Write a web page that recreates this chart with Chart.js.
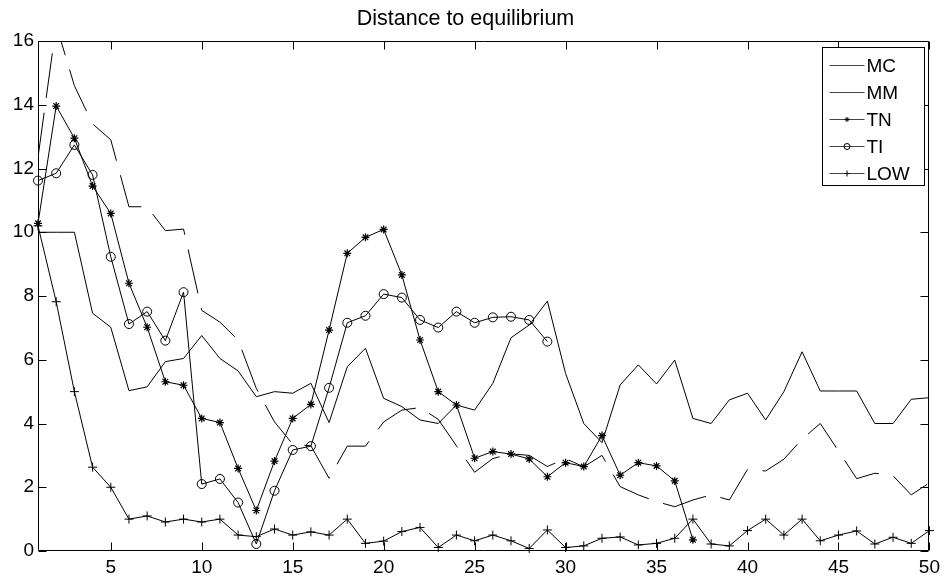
<!DOCTYPE html>
<html>
<head>
<meta charset="utf-8">
<title>Distance to equilibrium</title>
<script src="https://cdn.jsdelivr.net/npm/chart.js@4.4.1/dist/chart.umd.min.js"></script>
<style>
  html, body { margin: 0; padding: 0; background: #fff; }
</style>
</head>
<body>
<canvas id="grafico" width="945" height="579"></canvas>
<script>
// x positions (iterations)
const steps = [1, 2, 3, 4, 5, 6, 7, 8, 9, 10, 11, 12, 13, 14, 15, 16, 17, 18, 19, 20,
  21, 22, 23, 24, 25, 26, 27, 28, 29, 30, 31, 32, 33, 34, 35, 36, 37, 38, 39, 40,
  41, 42, 43, 44, 45, 46, 47, 48, 49, 50];

const mcValues = [10.0, 10.0, 10.0, 7.46, 7.02, 5.03, 5.15, 5.94, 6.04, 6.76,
  6.04, 5.65, 4.84, 5.0, 4.95, 5.26, 4.03, 5.78, 6.36, 4.79,
  4.53, 4.11, 4.0, 4.58, 4.42, 5.26, 6.69, 7.09, 7.84, 5.57,
  4.0, 3.4, 5.21, 5.84, 5.24, 5.99, 4.16, 4.0, 4.74, 4.95,
  4.11, 5.0, 6.25, 5.02, 5.02, 5.02, 4.0, 4.0, 4.76, 4.81];

const mmValues = [12.35, 16.5, 14.6, 13.4, 12.9, 10.8, 10.8, 10.05, 10.1, 7.55,
  7.18, 6.62, 5.1, 4.05, 3.35, 3.3, 2.28, 3.29, 3.29, 4.05,
  4.42, 4.5, 4.13, 3.3, 2.47, 2.9, 3.05, 3.0, 2.65, 2.9,
  2.64, 3.0, 2.02, 1.76, 1.55, 1.39, 1.6, 1.76, 1.6, 2.56,
  2.51, 2.88, 3.51, 4.0, 3.14, 2.27, 2.44, 2.36, 1.76, 2.14];

const tnValues = [10.28, 13.96, 12.95, 11.45, 10.59, 8.4, 7.02, 5.31, 5.2, 4.16,
  4.03, 2.59, 1.27, 2.82, 4.16, 4.6, 6.93, 9.34, 9.84, 10.09,
  8.66, 6.62, 5.0, 4.58, 2.91, 3.12, 3.04, 2.89, 2.33, 2.77,
  2.65, 3.62, 2.38, 2.77, 2.67, 2.2, 0.35];

const tiValues = [11.62, 11.85, 12.74, 11.8, 9.23, 7.12, 7.51, 6.6, 8.12, 2.1,
  2.26, 1.52, 0.22, 1.89, 3.17, 3.29, 5.12, 7.16, 7.38, 8.06,
  7.95, 7.25, 7.01, 7.51, 7.16, 7.33, 7.35, 7.25, 6.57];

const lowValues = [10.2, 7.82, 5.0, 2.63, 2.0, 1.0, 1.1, 0.91, 1.0, 0.91,
  1.0, 0.5, 0.45, 0.69, 0.5, 0.6, 0.5, 1.0, 0.24, 0.31,
  0.61, 0.74, 0.11, 0.5, 0.32, 0.5, 0.32, 0.08, 0.66, 0.11,
  0.16, 0.4, 0.44, 0.19, 0.24, 0.4, 1.0, 0.22, 0.16, 0.64,
  1.0, 0.5, 1.0, 0.32, 0.5, 0.63, 0.22, 0.43, 0.24, 0.64];

const xTickValues = [5, 10, 15, 20, 25, 30, 35, 40, 45, 50];
const yTickValues = [0, 2, 4, 6, 8, 10, 12, 14, 16];

const fonte = '"Liberation Sans", Arial, sans-serif';

// junta x e y em pontos
function pontos(valores) {
  return valores.map((v, i) => ({ x: steps[i], y: v }));
}

// moldura, ticks para dentro e legenda dentro do grafico
const moldura = {
  id: 'moldura',
  afterDraw(chart) {
    const { ctx, chartArea: a, scales } = chart;
    const L = Math.round(a.left) + 0.5, R = Math.round(a.right) - 0.5;
    const T = Math.round(a.top) + 0.5, B = Math.round(a.bottom) - 0.5;
    const tick = 8;
    ctx.save();
    ctx.strokeStyle = '#000';
    ctx.lineWidth = 1;
    ctx.beginPath();
    ctx.rect(L, T, R - L, B - T);
    scales.x.ticks.forEach(t => {
      const px = Math.round(scales.x.getPixelForValue(t.value)) + 0.5;
      ctx.moveTo(px, B); ctx.lineTo(px, B - tick);
      ctx.moveTo(px, T); ctx.lineTo(px, T + tick);
    });
    scales.y.ticks.forEach(t => {
      const py = Math.round(scales.y.getPixelForValue(t.value)) + 0.5;
      ctx.moveTo(L, py); ctx.lineTo(L + tick, py);
      ctx.moveTo(R, py); ctx.lineTo(R - tick, py);
    });
    ctx.stroke();

    // legenda
    const boxW = 102, boxH = 138;
    const bx = Math.round(a.right) - 5 - boxW + 0.5;
    const by = Math.round(a.top) + 6 + 0.5;
    ctx.fillStyle = '#fff';
    ctx.fillRect(bx, by, boxW, boxH);
    ctx.strokeRect(bx, by, boxW, boxH);
    ctx.font = '19px ' + fonte;
    ctx.textBaseline = 'middle';
    ctx.textAlign = 'left';
    chart.data.datasets.forEach((ds, i) => {
      const yy = Math.round(by + 17 + i * 27.2) + 0.5;
      ctx.strokeStyle = '#444';
      ctx.beginPath();
      ctx.moveTo(bx + 7, yy); ctx.lineTo(bx + 42, yy);
      ctx.stroke();
      if (ds.pointRadius > 0) {
        ctx.strokeStyle = '#000';
        ctx.fillStyle = 'rgba(0,0,0,0)';
        Chart.helpers.drawPoint(ctx, {
          pointStyle: ds.pointStyle,
          radius: ds.legendRadius,
          rotation: 0,
          borderWidth: 1
        }, bx + 24.5, yy);
      }
      ctx.fillStyle = '#000';
      ctx.fillText(ds.label, bx + 44, yy + 1);
    });
    ctx.restore();
  }
};

const ctx = document.getElementById('grafico');

new Chart(ctx, {
  type: 'line',
  data: {
    datasets: [
      {
        label: 'MC',
        data: pontos(mcValues),
        borderColor: '#000',
        borderWidth: 1,
        pointRadius: 0,
        tension: 0
      },
      {
        label: 'MM',
        data: pontos(mmValues),
        borderColor: '#000',
        borderWidth: 1,
        borderDash: [45, 15],
        pointRadius: 0,
        tension: 0
      },
      {
        label: 'TN',
        data: pontos(tnValues),
        borderColor: '#000',
        borderWidth: 1,
        pointStyle: 'star',
        pointRadius: 4,
        legendRadius: 2.5,
        pointBorderColor: '#000',
        pointBorderWidth: 1.2,
        tension: 0,
        clip: false
      },
      {
        label: 'TI',
        data: pontos(tiValues),
        borderColor: '#000',
        borderWidth: 1,
        pointStyle: 'circle',
        pointRadius: 4.5,
        legendRadius: 3,
        pointBorderColor: '#000',
        pointBackgroundColor: 'rgba(0,0,0,0)',
        pointBorderWidth: 1,
        tension: 0,
        clip: false
      },
      {
        label: 'LOW',
        data: pontos(lowValues),
        borderColor: '#000',
        borderWidth: 1,
        pointStyle: 'cross',
        pointRadius: 4.5,
        legendRadius: 3,
        pointBorderColor: '#000',
        pointBorderWidth: 1,
        tension: 0,
        clip: false
      }
    ]
  },
  options: {
    responsive: false,
    animation: false,
    layout: { padding: { left: 0, right: 14, top: 0, bottom: 0 } },
    plugins: {
      legend: { display: false },
      tooltip: { enabled: false },
      title: {
        display: true,
        text: 'Distance to equilibrium',
        color: '#000',
        font: { family: fonte, size: 21.5, weight: 'normal', lineHeight: 1.2 },
        padding: { top: 6.5, bottom: 8.7 }
      }
    },
    scales: {
      x: {
        type: 'linear',
        min: 1,
        max: 50,
        afterBuildTicks: s => { s.ticks = xTickValues.map(v => ({ value: v })); },
        afterFit: s => { s.height = 28; },
        grid: { display: false, drawTicks: false },
        border: { display: false },
        ticks: {
          color: '#000',
          font: { family: fonte, size: 19 },
          padding: 5,
          maxRotation: 0,
          autoSkip: false
        }
      },
      y: {
        type: 'linear',
        min: 0,
        max: 16,
        afterBuildTicks: s => { s.ticks = yTickValues.map(v => ({ value: v })); },
        afterFit: s => { s.width = 38; },
        grid: { display: false, drawTicks: false },
        border: { display: false },
        ticks: {
          color: '#000',
          font: { family: fonte, size: 19 },
          padding: 4
        }
      }
    }
  },
  plugins: [moldura]
});
</script>
</body>
</html>
